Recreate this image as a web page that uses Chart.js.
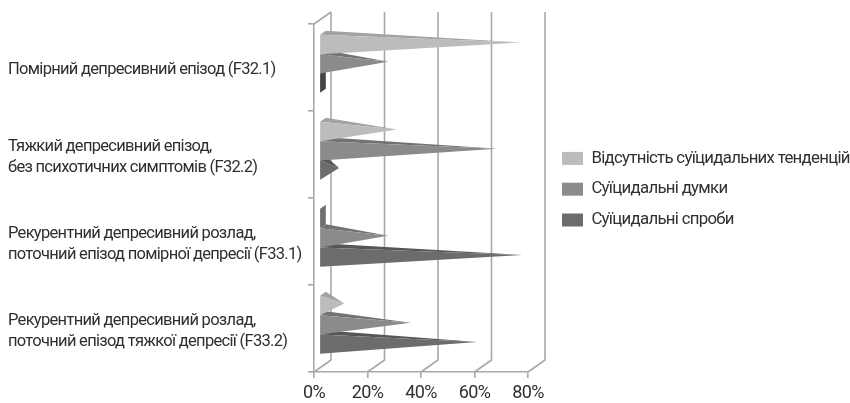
<!DOCTYPE html>
<html>
<head>
<meta charset="utf-8">
<script src="https://cdn.jsdelivr.net/npm/chart.js@4"></script>
<style>
  html, body { margin: 0; padding: 0; background: #fff; }
  #wrap { width: 850px; height: 403px; }
</style>
</head>
<body>
<div id="wrap"><canvas id="myChart"></canvas></div>
<script>
const categories = [
    'Помірний депресивний епізод (F32.1)',
    ['Тяжкий депресивний епізод,', 'без психотичних симптомів (F32.2)'],
    ['Рекурентний депресивний розлад,', 'поточний епізод помірної депресії (F33.1)'],
    ['Рекурентний депресивний розлад,', 'поточний епізод тяжкої депресії (F33.2)']
];
const seriesNames = ['Відсутність суїцидальних тенденцій', 'Суїцидальні думки', 'Суїцидальні спроби'];
const noTendency = [75.4, 29, 1, 9.4];
const thoughts = [25.8, 66.5, 25.8, 34.2];
const attempts = [1, 7.4, 75.8, 59];
const frontColors = ['#bcbcbe', '#8b8b8d', '#6c6c6e'];
const topColors = ['#a3a3a5', '#727274', '#565658'];
const baseColors = ['#707072', '#5a5a5c', '#454547'];

const axisColor = '#a8a8aa';
const textColor = '#2f2f2f';
const fontFamily = '"Roboto", sans-serif';

// depth of the pyramids and of the back wall, in pixels
const shift = { x: 5.3, y: -3.7 };
const baseDepth = { x: 5.7, y: -4 };
const wallDepth = { x: 17, y: -12 };

const pyramid3d = {
    id: 'pyramid3d',
    afterLayout(chart) {
        // legend sits beside the plot, not inside it
        const lg = chart.legend;
        const pad = lg.options.labels.padding;
        lg.left = 562 - pad;
        lg.right = 850;
        lg.top = 136;
        lg.bottom = 260;
    },
    beforeDraw(chart) {
        // source text is a condensed face, tighten Roboto to the same widths
        chart.ctx.letterSpacing = '-0.7px';
    },
    beforeDatasetsDraw(chart) {
        // walls: each x tick runs back along the floor and up the wall
        const c = chart.ctx, x = chart.scales.x, a = chart.chartArea;
        c.save();
        c.strokeStyle = axisColor;
        c.lineWidth = 1.6;
        x.ticks.forEach((t, i) => {
            const px = x.getPixelForTick(i);
            c.beginPath();
            c.moveTo(px, a.bottom);
            c.lineTo(px + wallDepth.x, a.bottom + wallDepth.y);
            c.lineTo(px + wallDepth.x, a.top + wallDepth.y);
            c.stroke();
        });
        c.beginPath();
        c.moveTo(a.left, a.top);
        c.lineTo(a.left + wallDepth.x, a.top + wallDepth.y);
        c.stroke();
        c.restore();
    },
    beforeDatasetDraw(chart, args) {
        const c = chart.ctx, i = args.index;
        chart.getDatasetMeta(i).data.forEach(el => {
            const l = el.base + shift.x;
            const t = el.y - el.height / 2 + shift.y;
            const b = el.y + el.height / 2 + shift.y;
            const tip = [el.x + shift.x, el.y + shift.y + baseDepth.y / 2];
            // the square base only shows behind very short pyramids
            if (tip[0] < l + baseDepth.x) {
                poly(c, baseColors[i], [[l, t], [l + baseDepth.x, t + baseDepth.y], [l + baseDepth.x, b + baseDepth.y], [l, b]]);
                return;
            }
            poly(c, topColors[i], [[l, t], [l + baseDepth.x, t + baseDepth.y], tip]);
            poly(c, frontColors[i], [[l, t], tip, [l, b]]);
        });
        return false;
    }
};

function poly(c, color, pts) {
    c.fillStyle = color;
    c.beginPath();
    pts.forEach((p, k) => k ? c.lineTo(p[0], p[1]) : c.moveTo(p[0], p[1]));
    c.closePath();
    c.fill();
}

const ctx = document.getElementById('myChart').getContext('2d');
const myChart = new Chart(ctx, {
    type: 'bar',
    plugins: [pyramid3d],
    data: {
        labels: categories,
        datasets: [
            { label: seriesNames[0], data: noTendency, backgroundColor: frontColors[0] },
            { label: seriesNames[1], data: thoughts, backgroundColor: frontColors[1] },
            { label: seriesNames[2], data: attempts, backgroundColor: frontColors[2] }
        ]
    },
    options: {
        indexAxis: 'y',
        responsive: true,
        maintainAspectRatio: false,
        animation: false,
        datasets: { bar: { categoryPercentage: 0.665, barPercentage: 1 } },
        layout: { padding: { left: 8, right: 322, top: 24, bottom: 0 } },
        scales: {
            x: {
                min: 0,
                max: 80,
                ticks: {
                    stepSize: 20,
                    callback: v => v + '%',
                    color: textColor,
                    font: { family: fontFamily, size: 18 },
                    padding: 5,
                    maxRotation: 0
                },
                grid: { drawOnChartArea: false, color: axisColor, lineWidth: 1.6, tickLength: 6 },
                border: { color: axisColor, width: 1.6 },
                afterFit(s) { s.height = 31; }
            },
            y: {
                ticks: {
                    crossAlign: 'far',
                    labelOffset: 2.5,
                    color: textColor,
                    font: { family: fontFamily, size: 16.5, lineHeight: 1.27 }
                },
                grid: { drawOnChartArea: false, color: axisColor, lineWidth: 1.6, tickLength: 6 },
                border: { color: axisColor, width: 1.6 },
                afterFit(s) { s.width = 306; }
            }
        },
        plugins: {
            legend: {
                position: 'chartArea',
                align: 'start',
                labels: {
                    boxWidth: 21,
                    boxHeight: 13,
                    padding: 14,
                    color: textColor,
                    font: { family: fontFamily, size: 16.8 }
                }
            },
            tooltip: { enabled: false }
        }
    }
});
</script>
</body>
</html>
